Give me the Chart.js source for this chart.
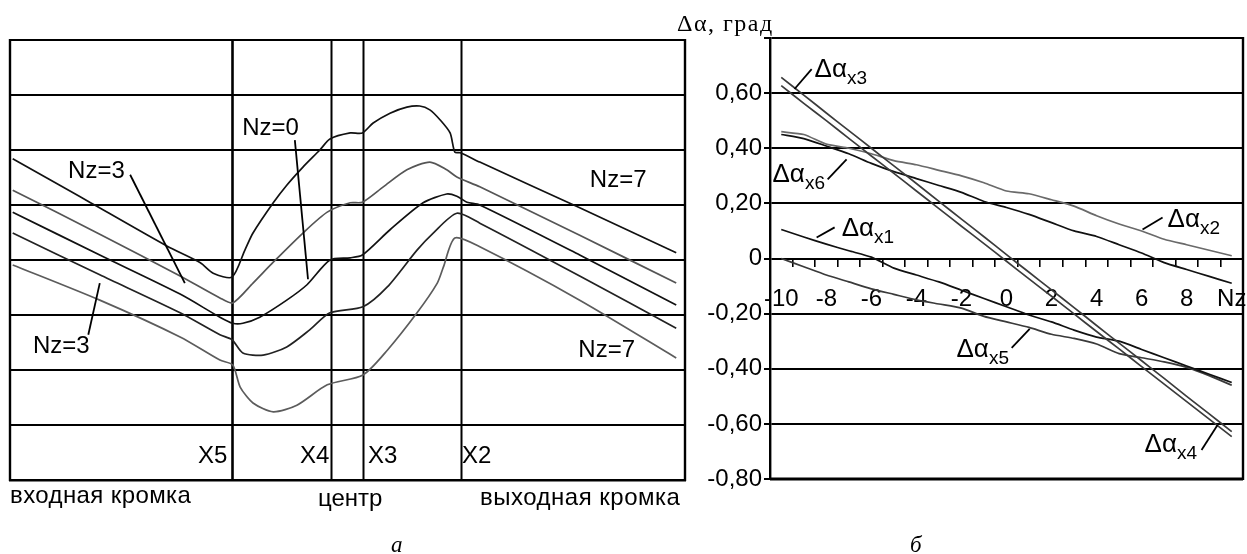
<!DOCTYPE html>
<html>
<head>
<meta charset="utf-8">
<script src="https://cdn.jsdelivr.net/npm/chart.js@4.4.0/dist/chart.umd.min.js"></script>
<style>
  body { margin: 0; background: #fff; }
  #wrap { position: relative; width: 1247px; height: 554px; overflow: hidden;
          font-family: "Liberation Sans", Arial, sans-serif; color: #000; }
  #wrap canvas { position: absolute; top: 0; }
  .cap { position: absolute; white-space: nowrap; font-size: 24px; line-height: 24px; }
  .serif { font-family: "Liberation Serif", "Times New Roman", serif; }
</style>
</head>
<body>
<div id="wrap">
  <canvas id="profileChart" width="690" height="554" style="left:0"></canvas>
  <canvas id="deltaChart" width="557" height="554" style="left:690px"></canvas>

  <div class="cap" style="left:10px;top:483px;letter-spacing:0.4px">входная кромка</div>
  <div class="cap" style="left:318px;top:486px">центр</div>
  <div class="cap" style="left:480px;top:485px;letter-spacing:0.5px">выходная кромка</div>
  <div class="cap serif" style="left:391px;top:533px;font-style:italic;font-size:23px">а</div>
  <div class="cap serif" style="left:910px;top:533px;font-style:italic;font-size:23px">б</div>
  <div class="cap serif" style="left:677px;top:11px;font-size:24px;letter-spacing:1.5px">Δα, град</div>
</div>

<script>
// === Panel "а": profile curves along the blade (x = % of chord, y = grid units) ===
const curveA = [[0.4,5.84],[10.4,5.15],[23.3,4.25],[28.2,3.95],[30.1,3.76],[32.9,3.69],[34.8,4.18],[36.0,4.49],
  [39.0,5.04],[41.0,5.36],[43.4,5.69],[45.9,6.0],[47.4,6.2],[50.4,6.31],[52.2,6.31],[53.8,6.49],[56.3,6.67],
  [58.8,6.78],[60.7,6.8],[62.2,6.73],[63.7,6.55],[65.2,6.31],[65.9,5.96],[66.7,5.95],[69.6,5.78],[84.4,4.95],[98.7,4.13]];
const curveB = [[0.4,5.27],[13.3,4.47],[25.2,3.71],[31.1,3.31],[33.0,3.22],[36.0,3.58],[39.0,3.96],[43.4,4.49],
  [47.0,4.87],[50.4,5.04],[52.2,5.05],[55.3,5.33],[58.8,5.64],[62.2,5.78],[64.7,5.64],[66.2,5.51],[69.6,5.33],
  [84.4,4.45],[98.7,3.58]];
const curveC = [[0.4,4.87],[13.3,4.09],[25.2,3.38],[31.1,2.96],[33.0,2.85],[34.5,2.85],[37.0,2.96],[41.0,3.27],
  [44.0,3.55],[47.4,4.0],[50.4,4.04],[52.2,4.09],[56.3,4.55],[61.2,5.04],[64.7,5.2],[66.2,5.16],[67.7,5.05],
  [69.6,5.0],[84.4,4.09],[98.7,3.18]];
const curveD = [[0.4,4.49],[13.3,3.73],[25.2,3.04],[31.1,2.64],[32.9,2.55],[34.5,2.31],[37.5,2.27],[41.0,2.42],
  [44.4,2.73],[47.4,3.04],[52.3,3.15],[55.9,3.51],[60.3,4.18],[62.7,4.49],[66.2,4.85],[69.6,4.67],[84.4,3.71],[98.7,2.76]];
const curveE = [[0.4,3.91],[13.3,3.27],[25.2,2.6],[31.1,2.18],[33.0,2.09],[34.1,1.69],[36.0,1.4],[39.0,1.24],
  [42.5,1.36],[47.0,1.73],[52.3,1.91],[55.9,2.36],[60.3,3.04],[63.3,3.58],[64.2,3.87],[65.9,4.4],[69.6,4.24],
  [84.4,3.27],[98.7,2.22]];

const sectionNames = ["X5", "X4", "X3", "X2"];
const sectionPos = [32.9, 47.6, 52.3, 66.8];

// === Panel "б": Δα versus Nz ===
const nzCategories = [-10,-9,-8,-7,-6,-5,-4,-3,-2,-1,0,1,2,3,4,5,6,7,8,9,10];
const dAx1 = [0.105,0.078,0.052,0.028,0.005,-0.035,-0.06,-0.085,-0.115,-0.145,-0.175,-0.205,-0.23,-0.26,-0.285,-0.3,-0.33,-0.36,-0.39,-0.42,-0.45];
const dAx2 = [0.46,0.45,0.415,0.4,0.38,0.355,0.34,0.32,0.3,0.275,0.245,0.235,0.213,0.19,0.155,0.125,0.1,0.07,0.05,0.03,0.01];
const dAx3 = [0.657,0.593,0.528,0.464,0.4,0.336,0.272,0.207,0.143,0.079,0.014,-0.05,-0.114,-0.178,-0.243,-0.307,-0.371,-0.435,-0.5,-0.564,-0.628];
const dAx4 = [0.627,0.563,0.5,0.436,0.372,0.309,0.245,0.181,0.117,0.054,-0.01,-0.074,-0.137,-0.201,-0.265,-0.328,-0.392,-0.456,-0.519,-0.583,-0.646];
const dAx5 = [0.0,-0.03,-0.06,-0.085,-0.11,-0.13,-0.15,-0.165,-0.18,-0.21,-0.23,-0.25,-0.275,-0.29,-0.31,-0.345,-0.36,-0.375,-0.395,-0.425,-0.46];
const dAx6 = [0.45,0.435,0.408,0.38,0.345,0.315,0.29,0.265,0.24,0.207,0.185,0.16,0.13,0.1,0.08,0.05,0.02,-0.015,-0.04,-0.065,-0.09];

const SANS = '"Liberation Sans", Arial, sans-serif';
const BLACK = "#111";
const GRAY = "#555";

// text labels for panel "а" (anchored in data units)
const profileNotes = [
  { text: "Nz=0", x: 34.4, y: 6.27 },
  { text: "Nz=3", x: 8.6, y: 5.49 },
  { text: "Nz=3", x: 3.4, y: 2.31 },
  { text: "Nz=7", x: 85.9, y: 5.33 },
  { text: "Nz=7", x: 84.2, y: 2.24 },
];
const profileLeaders = [
  [42.2, 6.18, 44.15, 3.65],
  [17.8, 5.55, 25.9, 3.58],
  [11.6, 2.64, 13.3, 3.58],
];
const sectionLabelX = [27.85, 42.96, 53.04, 66.96];

// labels for panel "б" (x in category index, y in value)
const deltaNotes = [
  { sub: "x3", x: 1.48, y: 0.658, line: [0.59, 0.615, 1.35, 0.687] },
  { sub: "x6", x: -0.39, y: 0.276, line: [2.06, 0.287, 2.9, 0.36] },
  { sub: "x1", x: 2.68, y: 0.08, line: [1.57, 0.076, 2.37, 0.113] },
  { sub: "x2", x: 17.15, y: 0.116, line: [16.04, 0.105, 16.93, 0.149] },
  { sub: "x5", x: 7.78, y: -0.356, line: [10.23, -0.324, 11.03, -0.255] },
  { sub: "x4", x: 16.13, y: -0.702, line: [18.66, -0.695, 19.37, -0.604] },
];

function toXY(points) {
  return points.map((p) => ({ x: p[0], y: p[1] }));
}

function curveSet(points, color) {
  return {
    data: toXY(points),
    borderColor: color,
    borderWidth: 1.7,
    pointRadius: 0,
    tension: 0.25,
    fill: false,
  };
}

function seg(ctx, x1, y1, x2, y2, w) {
  ctx.beginPath();
  ctx.lineWidth = w;
  ctx.moveTo(x1, y1);
  ctx.lineTo(x2, y2);
  ctx.stroke();
}

// --- plugin: frame, section lines and notes of panel "а"
const profileDecor = {
  id: "profileDecor",
  beforeDatasetsDraw(chart) {
    const { ctx, chartArea: a, scales: { x } } = chart;
    ctx.save();
    ctx.strokeStyle = "#000";
    sectionPos.forEach((p, i) => {
      const px = Math.round(x.getPixelForValue(p)) + 0.5;
      seg(ctx, px, a.top, px, a.bottom, i === 0 ? 2.6 : 2);
    });
    seg(ctx, a.right, a.top - 1, a.right, a.bottom + 1, 2.4);
    seg(ctx, a.left, a.top - 1, a.left, a.bottom + 1, 2.4);
    ctx.restore();
  },
  afterDatasetsDraw(chart) {
    const { ctx, scales: { x, y } } = chart;
    ctx.save();
    ctx.fillStyle = "#000";
    ctx.strokeStyle = "#000";
    ctx.font = "24px " + SANS;
    ctx.textBaseline = "alphabetic";
    profileNotes.forEach((n) => ctx.fillText(n.text, x.getPixelForValue(n.x), y.getPixelForValue(n.y)));
    profileLeaders.forEach((l) =>
      seg(ctx, x.getPixelForValue(l[0]), y.getPixelForValue(l[1]), x.getPixelForValue(l[2]), y.getPixelForValue(l[3]), 1.8)
    );
    sectionNames.forEach((s, i) => ctx.fillText(s, x.getPixelForValue(sectionLabelX[i]), y.getPixelForValue(0.31)));
    ctx.restore();
  },
};

new Chart(document.getElementById("profileChart"), {
  type: "line",
  data: {
    datasets: [
      curveSet(curveA, BLACK),
      curveSet(curveB, GRAY),
      curveSet(curveC, BLACK),
      curveSet(curveD, "#222"),
      curveSet(curveE, "#5c5c5c"),
    ],
  },
  options: {
    responsive: false,
    animation: false,
    devicePixelRatio: 1,
    layout: { padding: { left: 10, top: 40, right: 5, bottom: 74 } },
    plugins: { legend: { display: false }, tooltip: { enabled: false } },
    scales: {
      x: {
        type: "linear",
        min: 0,
        max: 100,
        grid: { display: false },
        ticks: { display: false },
        border: { display: true, color: "#000", width: 2.4 },
        afterFit: (s) => { s.height = 0; },
      },
      y: {
        min: 0,
        max: 8,
        ticks: { display: false, stepSize: 1 },
        grid: { color: "#000", lineWidth: 2, drawTicks: false },
        border: { display: false },
        afterFit: (s) => { s.width = 0; },
      },
    },
  },
  plugins: [profileDecor],
});

// --- plugin: frame and Δα labels of panel "б"
const deltaDecor = {
  id: "deltaDecor",
  afterDatasetsDraw(chart) {
    const { ctx, chartArea: a, scales: { x, y } } = chart;
    ctx.save();
    ctx.strokeStyle = "#000";
    ctx.fillStyle = "#000";
    seg(ctx, a.right, a.top - 1, a.right, a.bottom + 1, 2.4);
    seg(ctx, a.left, a.bottom, a.right, a.bottom, 3.2);
    deltaNotes.forEach((n) => {
      const l = n.line;
      seg(ctx, x.getPixelForValue(l[0]), y.getPixelForValue(l[1]), x.getPixelForValue(l[2]), y.getPixelForValue(l[3]), 1.8);
      const px = x.getPixelForValue(n.x);
      const py = y.getPixelForValue(n.y);
      ctx.textBaseline = "alphabetic";
      ctx.font = "26px " + SANS;
      ctx.fillText("Δα", px, py);
      const w = ctx.measureText("Δα").width;
      ctx.font = "19px " + SANS;
      ctx.fillText(n.sub, px + w, py + 7);
    });
    ctx.restore();
  },
};

function deltaSet(values, color) {
  return {
    data: values,
    borderColor: color,
    borderWidth: 1.7,
    pointRadius: 0,
    tension: 0.2,
    fill: false,
  };
}

new Chart(document.getElementById("deltaChart"), {
  type: "line",
  data: {
    labels: nzCategories,
    datasets: [
      deltaSet(dAx3, "#3c3c3c"),
      deltaSet(dAx4, "#3c3c3c"),
      deltaSet(dAx2, "#6a6a6a"),
      deltaSet(dAx6, BLACK),
      deltaSet(dAx1, BLACK),
      deltaSet(dAx5, "#3a3a3a"),
    ],
  },
  options: {
    responsive: false,
    animation: false,
    devicePixelRatio: 1,
    layout: { padding: { left: 0, top: 38, right: 4, bottom: 75 } },
    plugins: { legend: { display: false }, tooltip: { enabled: false } },
    scales: {
      x: {
        type: "category",
        position: { y: 0 },
        offset: true,
        grid: { drawOnChartArea: false, drawTicks: true, tickLength: 8, color: "#000", lineWidth: 1.6, offset: true },
        border: { display: false },
        ticks: {
          autoSkip: false,
          maxRotation: 0,
          padding: 18,
          color: "#000",
          font: { size: 24, family: SANS },
          callback: (val, idx) => (idx % 2 ? "" : idx === nzCategories.length - 1 ? "Nz" : String(nzCategories[idx])),
        },
        // the labels sit inside the plot, so they must not shrink it
        afterFit: (s) => { s.paddingLeft = 0; s.paddingRight = 0; },
      },
      y: {
        min: -0.8,
        max: 0.8,
        ticks: {
          stepSize: 0.2,
          padding: 2,
          color: "#000",
          font: { size: 24, family: SANS },
          callback: (v) => {
            const r = Math.round(v * 100) / 100;
            if (r >= 0.8) return "";
            if (r === 0) return "0";
            return r.toFixed(2).replace(".", ",");
          },
        },
        grid: { color: "#000", lineWidth: 2, tickLength: 6 },
        border: { display: true, color: "#000", width: 2.4 },
        afterFit: (s) => { s.width = 80; },
      },
    },
  },
  plugins: [deltaDecor],
});
</script>
</body>
</html>
